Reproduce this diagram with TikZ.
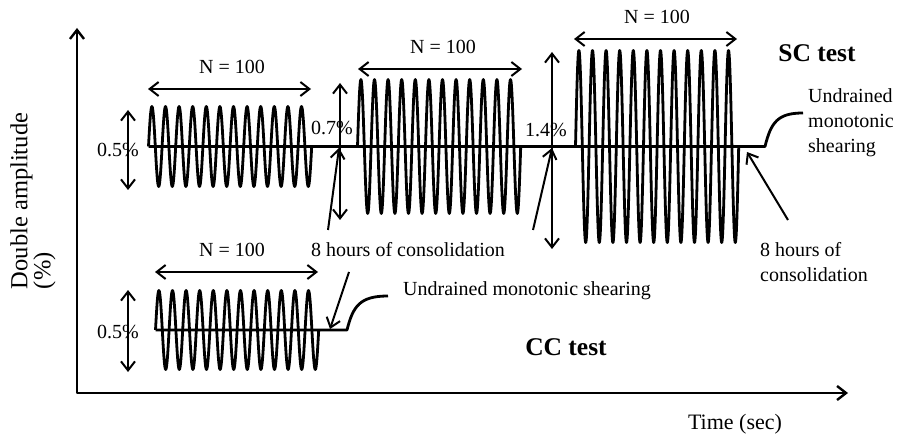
\documentclass[tikz,border=0pt]{standalone}
\usepackage{fontspec}
\setmainfont{Liberation Serif}
\usetikzlibrary{arrows.meta}

\begin{document}
\begin{tikzpicture}[x=1pt,y=-1pt,line join=round,
  >={Straight Barb[length=9pt,width=14pt]},
  font=\fontsize{20}{25}\selectfont,
  axis/.style={line width=2.4pt},
  wave/.style={line width=2.8pt},
  dim/.style={line width=2pt,<->},
  pointer/.style={line width=2pt,->},
  lbl/.style={inner sep=0pt},
  testlbl/.style={inner sep=0pt,font=\fontsize{25.5}{30}\selectfont\bfseries}]
\useasboundingbox (0,0) rectangle (909,438);
\coordinate (org) at (77,393);
\coordinate (ytip) at (77,28);
\coordinate (xtip) at (848,393);
\draw[axis,<->] (ytip) -- (org) -- (xtip);
\node[lbl,rotate=90,align=left,font=\fontsize{24.5}{16}\selectfont] (ylabel) at (33,201) {Double amplitude\\(\%)};
\node[lbl,font=\fontsize{22}{26}\selectfont] (xlabel) at (735,424) {Time (sec)};
\coordinate (g1) at (148.5,146.5);
\coordinate (g2) at (357.5,146.5);
\coordinate (g3) at (575.5,146.5);
\coordinate (g4) at (155.5,330);
\coordinate (scend) at (765,146.5);
\coordinate (sctop) at (803,113);
\coordinate (ccend) at (347,330);
\coordinate (cctop) at (388,296);
\draw[wave] (g1) -- (scend) .. controls (771,122) and (778,113) .. (sctop);
\draw[wave] (g4) -- (ccend) .. controls (353,306) and (360,296) .. (cctop);
\foreach \s/\a in {g1/40,g2/67,g3/96,g4/39.5}
  \draw[wave] (\s) \foreach \k in {1,...,12}{sin ++(3.4,-\a) cos ++(3.4,\a) sin ++(3.4,\a) cos ++(3.4,-\a)};
\coordinate (a1t) at (128,110);
\coordinate (a1b) at (128,190);
\coordinate (a2t) at (340,83);
\coordinate (a2b) at (340,220);
\coordinate (a3t) at (552,52);
\coordinate (a3b) at (552,249);
\coordinate (a4t) at (128,290);
\coordinate (a4b) at (128,372);
\draw[dim] (a1t) -- (a1b);
\draw[dim] (a2t) -- (a2b);
\draw[dim] (a3t) -- (a3b);
\draw[dim] (a4t) -- (a4b);
\node[lbl] (amp1) at (118,150) {0.5\%};
\node[lbl] (amp2) at (332,128) {0.7\%};
\node[lbl] (amp3) at (546,130) {1.4\%};
\node[lbl] (amp4) at (118,332) {0.5\%};
\coordinate (n1l) at (148,89);
\coordinate (n1r) at (311,89);
\coordinate (n2l) at (358,69);
\coordinate (n2r) at (522,69);
\coordinate (n3l) at (574,39);
\coordinate (n3r) at (737,39);
\coordinate (n4l) at (155,272);
\coordinate (n4r) at (318,272);
\draw[dim] (n1l) -- (n1r);
\draw[dim] (n2l) -- (n2r);
\draw[dim] (n3l) -- (n3r);
\draw[dim] (n4l) -- (n4r);
\node[lbl] (cyc1) at (232,67) {N = 100};
\node[lbl] (cyc2) at (443,47) {N = 100};
\node[lbl] (cyc3) at (657,17) {N = 100};
\node[lbl] (cyc4) at (232,250) {N = 100};
\node[testlbl] (sctest) at (817,53) {SC test};
\node[testlbl] (cctest) at (566,347) {CC test};
\node[lbl,anchor=west,align=left] (scshear) at (808,123) {Undrained\\monotonic\\shearing};
\node[lbl,anchor=west] (ccshear) at (403,291) {Undrained monotonic shearing};
\node[lbl] (consol) at (408,250) {8 hours of consolidation};
\node[lbl,anchor=west,align=left] (consolsc) at (760,262) {8 hours of\\consolidation};
\coordinate (p1) at (328,230);
\coordinate (p1tip) at (339,148);
\coordinate (p2) at (533,230);
\coordinate (p2tip) at (552,148);
\coordinate (p3) at (349,272);
\coordinate (p3tip) at (330,329);
\coordinate (p4) at (788,220);
\coordinate (p4tip) at (747,152);
\draw[pointer] (p1) -- (p1tip);
\draw[pointer] (p2) -- (p2tip);
\draw[pointer] (p3) -- (p3tip);
\draw[pointer] (p4) -- (p4tip);
\end{tikzpicture}
\end{document}
